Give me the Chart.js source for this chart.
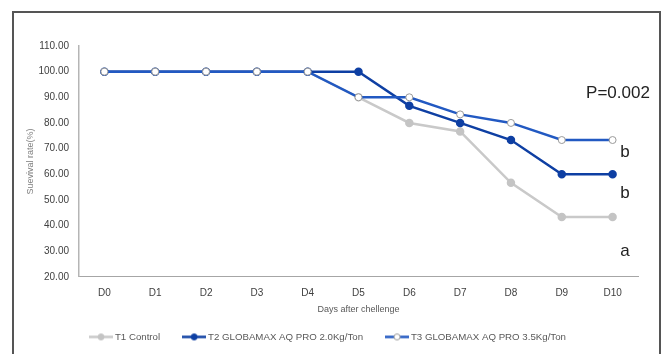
<!DOCTYPE html>
<html>
<head>
<meta charset="utf-8">
<script src="https://cdn.jsdelivr.net/npm/chart.js@4/dist/chart.umd.min.js"></script>
<style>
  html, body { margin: 0; padding: 0; background: #ffffff; }
  #wrap { position: relative; width: 663px; height: 354px; overflow: hidden; background: #fff; }
  #frame { position: absolute; left: 12px; top: 11px; width: 645px; height: 400px; border: 2px solid #555; }
  #c { position: absolute; left: 0; top: 0; }
</style>
</head>
<body>
<div id="wrap">
  <div id="frame"></div>
  <canvas id="c" width="663" height="354"></canvas>
</div>
<script>
const categories = ["D0","D1","D2","D3","D4","D5","D6","D7","D8","D9","D10"];
const t1Control = [100, 100, 100, 100, 100, 90, 80, 76.67, 56.67, 43.33, 43.33];
const t2Pro20   = [100, 100, 100, 100, 100, 100, 86.67, 80, 73.33, 60, 60];
const t3Pro35   = [100, 100, 100, 100, 100, 90, 90, 83.33, 80, 73.33, 73.33];
const seriesNames = ["T1 Control", "T2 GLOBAMAX AQ PRO 2.0Kg/Ton", "T3 GLOBAMAX AQ PRO 3.5Kg/Ton"];
const annotations = [
  { text: "P=0.002", x: 618, y: 98 },
  { text: "b", x: 625, y: 157 },
  { text: "b", x: 625, y: 198 },
  { text: "a", x: 625, y: 256 }
];

function legendIcon(lineColor, fill, stroke) {
  const cv = document.createElement('canvas');
  cv.width = 24; cv.height = 9;
  const g = cv.getContext('2d');
  g.strokeStyle = lineColor; g.lineWidth = 2.5;
  g.beginPath(); g.moveTo(0, 4.5); g.lineTo(24, 4.5); g.stroke();
  g.beginPath(); g.arc(12, 4.5, 3, 0, Math.PI * 2);
  g.fillStyle = fill; g.fill();
  g.strokeStyle = stroke; g.lineWidth = 1; g.stroke();
  return cv;
}

const colors = {
  t1: '#c9c9c9',
  t2: '#0e3fa3',
  t3: '#2259c2'
};
const icons = [
  legendIcon(colors.t1, '#c4c4c4', '#c4c4c4'),
  legendIcon(colors.t2, colors.t2, colors.t2),
  legendIcon(colors.t3, '#ffffff', '#9a9a9a')
];

const annotationPlugin = {
  id: 'annot',
  afterDraw(chart) {
    const ctx = chart.ctx;
    ctx.save();
    ctx.fillStyle = '#222';
    ctx.font = '17px "Liberation Sans", Arial, sans-serif';
    ctx.textAlign = 'center';
    ctx.textBaseline = 'alphabetic';
    annotations.forEach(a => ctx.fillText(a.text, a.x, a.y));
    ctx.restore();
  }
};

const fontFam = '"Liberation Sans", Arial, sans-serif';

new Chart(document.getElementById('c'), {
  type: 'line',
  data: {
    labels: categories,
    datasets: [
      { label: seriesNames[0], data: t1Control, borderColor: colors.t1, backgroundColor: '#c4c4c4',
        pointBackgroundColor: '#c4c4c4', pointBorderColor: '#c4c4c4', pointRadius: 3, borderWidth: 2.5,
        pointStyle: 'circle', order: 3, tension: 0 },
      { label: seriesNames[1], data: t2Pro20, borderColor: colors.t2, backgroundColor: colors.t2,
        pointBackgroundColor: colors.t2, pointBorderColor: colors.t2, pointRadius: 3, borderWidth: 2.5,
        order: 2, tension: 0 },
      { label: seriesNames[2], data: t3Pro35, borderColor: colors.t3, backgroundColor: '#ffffff',
        pointBackgroundColor: '#ffffff', pointBorderColor: '#9a9a9a', pointBorderWidth: 1, pointRadius: 3.5, borderWidth: 2.5,
        order: 1, tension: 0 }
    ]
  },
  options: {
    responsive: false,
    animation: false,
    devicePixelRatio: 1,
    layout: { padding: { left: 20, top: 46, right: 25, bottom: 2.25 } },
    plugins: {
      tooltip: { enabled: false },
      legend: {
        position: 'bottom',
        labels: {
          usePointStyle: true,
          pointStyleWidth: 18,
          padding: 25,
          color: '#595959',
          font: { family: fontFam, size: 9.7 },
          sort: (a, b) => a.datasetIndex - b.datasetIndex,
          generateLabels(chart) {
            return chart.data.datasets.map((ds, i) => ({
              text: ds.label,
              pointStyle: icons[i],
              fillStyle: ds.borderColor,
              strokeStyle: ds.borderColor,
              lineWidth: 0,
              hidden: false,
              datasetIndex: i,
              fontColor: '#595959'
            }));
          }
        }
      }
    },
    scales: {
      x: {
        offset: true,
        grid: { display: true, drawOnChartArea: false, drawTicks: false },
        border: { display: true, color: '#a6a6a6', width: 1 },
        ticks: { color: '#404040', font: { family: fontFam, size: 10 }, padding: 10, maxRotation: 0 },
        title: { display: true, text: 'Days after chellenge', color: '#595959',
                 font: { family: fontFam, size: 9 }, padding: { top: 4, bottom: -8 } },
        afterFit(s) { s.height = 30.25; }
      },
      y: {
        min: 20, max: 110,
        grid: { display: true, drawOnChartArea: false, drawTicks: false },
        border: { display: true, color: '#b5b5b5', width: 1.5 },
        ticks: { stepSize: 10, color: '#404040', font: { family: fontFam, size: 10 }, padding: 10,
                 callback: v => Number(v).toFixed(2) },
        title: { display: true, text: 'Suevival rate(%)', color: '#7f7f7f',
                 font: { family: fontFam, size: 9 }, padding: { top: 5, bottom: 0 } },
        afterFit(s) { s.width = 59; }
      }
    }
  },
  plugins: [annotationPlugin]
});
</script>
</body>
</html>
